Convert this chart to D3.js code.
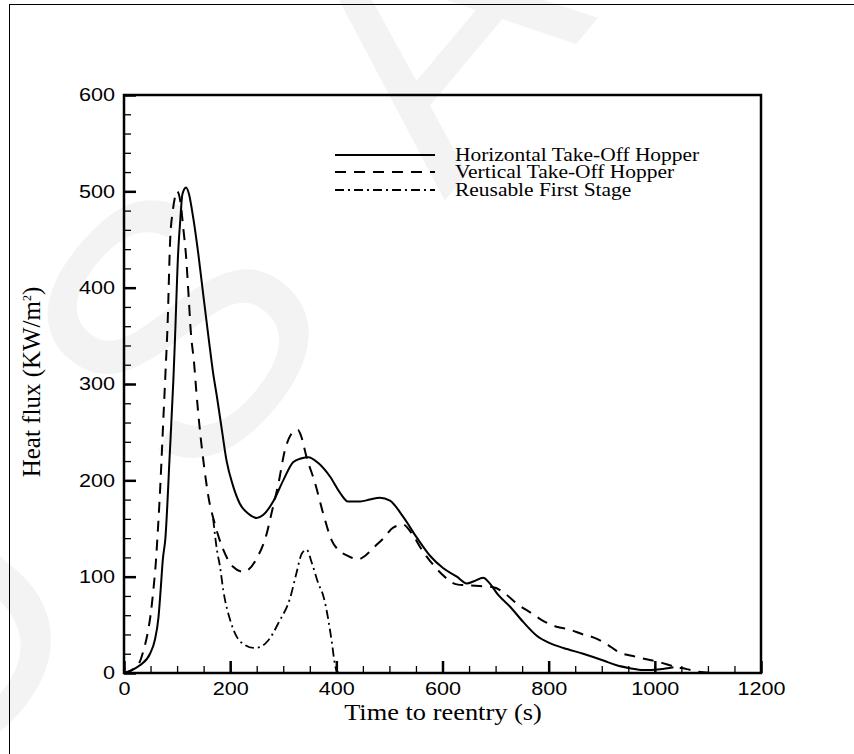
<!DOCTYPE html>
<html>
<head>
<meta charset="utf-8">
<script src="https://cdn.jsdelivr.net/npm/d3@7"></script>
<style>
  body { margin: 0; background: #fff; }
  svg { display: block; }
</style>
</head>
<body>
<div id="chart"></div>
<script>
// Horizontal Take-Off Hopper (solid)
var htoTime = [0, 10, 30, 49, 58, 65, 69, 73, 78, 86, 93, 96, 102, 106, 110, 117, 122, 130, 140, 149, 160, 168, 175, 185, 193, 205, 218, 235, 250, 262, 281, 300, 319, 335, 347, 366, 388, 407, 422, 445, 463, 482, 501, 526, 551, 576, 601, 627, 646, 658, 677, 689, 705, 727, 752, 777, 802, 828, 865, 903, 928, 953, 978, 1010, 1035];
var htoFlux = [0, 2, 8, 20, 34, 58, 86, 117, 140, 225, 304, 346, 436, 470, 497, 504, 498, 474, 435, 394, 345, 311, 287, 250, 221, 195, 176, 165, 161, 164, 178, 200, 219, 223, 224, 218, 204, 187, 178, 178, 180, 182, 179, 162, 141, 122, 109, 100, 93, 95, 99, 93, 81, 69, 53, 39, 31, 26, 20, 13, 8, 5, 3, 4, 6];

// Vertical Take-Off Hopper (dashed)
var vtoTime = [0, 15, 30, 36, 44, 50, 56, 60, 64, 68, 74, 78, 82, 87, 92, 97, 100, 106, 112, 117, 121, 126, 132, 136, 143, 151, 159, 171, 187, 206, 225, 250, 269, 278, 291, 303, 315, 322, 328, 333, 344, 360, 375, 391, 405, 420, 441, 455, 470, 489, 507, 526, 542, 561, 583, 598, 627, 646, 677, 696, 721, 740, 768, 787, 815, 840, 865, 884, 912, 931, 963, 982, 1010, 1035, 1060, 1080, 1110];
var vtoFlux = [0, 3, 12, 22, 40, 60, 90, 115, 150, 190, 262, 310, 360, 450, 480, 496, 500, 490, 460, 432, 398, 353, 322, 294, 252, 214, 183, 155, 128, 110, 105, 119, 145, 166, 197, 231, 248, 252, 252, 247, 224, 197, 166, 138, 127, 122, 118, 122, 130, 140, 151, 154, 145, 128, 112, 103, 92, 91, 90, 89, 81, 72, 62, 55, 48, 45, 40, 37, 29, 22, 17, 14.5, 11, 7, 4, 1.5, 0];

// Reusable First Stage (dash-dot)
var rfsTime = [168, 175, 181, 187, 200, 212, 228, 244, 256, 272, 292, 313, 325, 335, 344, 354, 366, 376, 385, 392, 397, 400, 405];
var rfsFlux = [160, 128, 110, 86, 55, 38, 29, 26, 27, 34, 53, 78, 104, 124, 128, 114, 93, 79, 55, 30, 10, 3, 0];

var xTicks = [0, 200, 400, 600, 800, 1000, 1200];
var yTicks = [0, 100, 200, 300, 400, 500, 600];
var legendLabels = ["Horizontal Take-Off Hopper", "Vertical Take-Off Hopper", "Reusable First Stage"];
var watermarkLetters = ["U", "S", "A"];

let margin = { left: 124, top: 95 };
let chart_width = 637;
let chart_height = 578;

let svg = d3
  .select("#chart")
  .append("svg")
  .attr("width", 854)
  .attr("height", 754);

// faint watermark letters behind everything, spread along a tilted baseline
let wm = svg.append("g").attr("transform", "translate(172,325) rotate(-50)");
wm.selectAll("text")
  .data(watermarkLetters)
  .enter()
  .append("text")
  .attr("x", function (d, i) { return (i - 1) * 390; })
  .attr("y", 129)
  .attr("text-anchor", "middle")
  .style("font-family", "Liberation Sans, Arial, sans-serif")
  .style("font-size", "360px")
  .style("fill", "#f3f3f3")
  .text(function (d) { return d; });

// thin outer frame
svg.append("rect")
  .attr("x", 9.5)
  .attr("y", 4.5)
  .attr("width", 870)
  .attr("height", 780)
  .attr("fill", "none")
  .attr("stroke", "#000")
  .attr("stroke-width", 1);

let g = svg.append("g").attr("transform", `translate(${margin.left},${margin.top})`);

var x = d3.scaleLinear().domain([0, 1200]).range([0, chart_width]);
var y = d3.scaleLinear().domain([0, 600]).range([chart_height, 0]);

// minor ticks first (inward)
g.append("g")
  .attr("class", "minor")
  .attr("transform", "translate(0," + chart_height + ")")
  .call(d3.axisBottom(x).tickValues(d3.range(0, 1201, 50)).tickSize(-7).tickFormat(""));
g.append("g")
  .attr("class", "minor")
  .call(d3.axisLeft(y).tickValues(d3.range(0, 601, 20)).tickSize(-7).tickFormat(""));

// major ticks + labels
let xAxis = g.append("g")
  .attr("transform", "translate(0," + chart_height + ")")
  .call(d3.axisBottom(x).tickValues(xTicks).tickSize(-12).tickPadding(9).tickFormat(d3.format("d")));
let yAxis = g.append("g")
  .call(d3.axisLeft(y).tickValues(yTicks).tickSize(-12).tickPadding(9).tickFormat(d3.format("d")));

g.selectAll(".minor line").attr("stroke", "#000").attr("stroke-width", 1.3);
xAxis.selectAll("line").attr("stroke", "#000").attr("stroke-width", 2.5);
yAxis.selectAll("line").attr("stroke", "#000").attr("stroke-width", 2.5);
g.selectAll(".domain").remove();

xAxis.selectAll("text")
  .style("font-family", "Liberation Sans, Arial, sans-serif")
  .style("font-size", "18px")
  .attr("fill", "#000")
  .attr("transform", "scale(1.2,1)");
yAxis.selectAll("text")
  .style("font-family", "Liberation Sans, Arial, sans-serif")
  .style("font-size", "18px")
  .attr("fill", "#000")
  .attr("x", -7.5)
  .attr("transform", "scale(1.2,1)");

// plot frame
g.append("rect")
  .attr("x", 0)
  .attr("y", 0)
  .attr("width", chart_width)
  .attr("height", chart_height)
  .attr("fill", "none")
  .attr("stroke", "#000")
  .attr("stroke-width", 2.5);

// curves
var line = d3.line()
  .x(function (d) { return x(d[0]); })
  .y(function (d) { return y(d[1]); })
  .curve(d3.curveMonotoneX);

var series = [
  { pts: d3.zip(htoTime, htoFlux), dash: null, w: 2 },
  { pts: d3.zip(vtoTime, vtoFlux), dash: "11,8", w: 2 },
  { pts: d3.zip(rfsTime, rfsFlux), dash: "9,4,2,4", w: 1.8 }
];

g.selectAll("path.curve")
  .data(series)
  .enter()
  .append("path")
  .attr("class", "curve")
  .attr("d", function (d) { return line(d.pts); })
  .attr("fill", "none")
  .attr("stroke", "#000")
  .attr("stroke-width", function (d) { return d.w; })
  .attr("stroke-dasharray", function (d) { return d.dash; })
  .attr("stroke-linejoin", "round");

// legend
var legendY = [155, 172, 190];
var legend = svg.append("g");
legendLabels.forEach(function (label, i) {
  legend.append("line")
    .attr("x1", 335)
    .attr("x2", 435)
    .attr("y1", legendY[i])
    .attr("y2", legendY[i])
    .attr("stroke", "#000")
    .attr("stroke-width", 2)
    .attr("stroke-dasharray", series[i].dash);
  legend.append("text")
    .attr("transform", "translate(455," + (legendY[i] + 6) + ") scale(1.16,1)")
    .style("font-family", "Liberation Serif, Times New Roman, serif")
    .style("font-size", "18.5px")
    .text(label);
});

// axis titles
svg.append("text")
  .attr("transform", "translate(443,720) scale(1.1,1)")
  .attr("text-anchor", "middle")
  .style("font-family", "Liberation Serif, Times New Roman, serif")
  .style("font-size", "24px")
  .text("Time to reentry (s)");

var yTitle = svg.append("text")
  .attr("transform", "translate(40,382) rotate(-90)")
  .attr("text-anchor", "middle")
  .style("font-family", "Liberation Serif, Times New Roman, serif")
  .style("font-size", "25px");
yTitle.append("tspan").text("Heat flux (KW/m");
yTitle.append("tspan").attr("dy", -9).style("font-size", "12px").text("2");
yTitle.append("tspan").attr("dy", 9).text(")");
</script>
</body>
</html>
